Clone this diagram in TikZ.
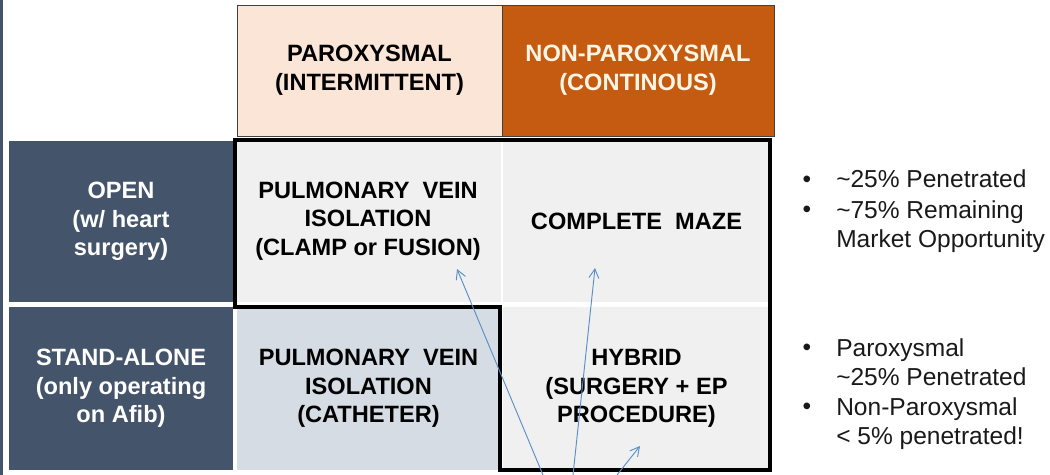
\documentclass[tikz,border=0pt]{standalone}
\usepackage{fontspec}
\setmainfont{Liberation Sans}
\usepackage{xcolor}
\usetikzlibrary{positioning,arrows.meta}

\definecolor{slate}{HTML}{44546A}
\definecolor{peach}{HTML}{FBE5D6}
\definecolor{rust}{HTML}{C55A11}
\definecolor{cream}{HTML}{FFF6E6}
\definecolor{cellgray}{HTML}{F0F0F0}
\definecolor{cellblue}{HTML}{D6DCE4}
\definecolor{arrowblue}{HTML}{5A8EC6}

\tikzset{
  box/.style 2 args={inner sep=0pt, minimum width=#1*0.75pt, minimum height=#2*0.75pt,
    align=center, font=\bfseries\fontsize{17.7}{21.5}\selectfont},
  hdr/.style={draw=black!75, line width=0.6pt},
  rowlab/.style={fill=slate, text=white},
  bul/.style={inner sep=0pt, align=left, text=black!90, font=\fontsize{18.4}{22.2}\selectfont},
  frame/.style={line width=3.1pt, line join=miter},
  arr/.style={draw=arrowblue, line width=0.7pt, -{Straight Barb[length=2.4mm, width=2.6mm]}}
}

\begin{document}
\begin{tikzpicture}[x=0.75pt, y=-0.75pt]
  \useasboundingbox (0,0) rectangle (1050,475);
  % slide edge
  \draw[slate, line width=1.6pt] (1.5,0) -- (1.5,475);

  % column headers
  \node[box={265}{131}, hdr, fill=peach] (parox) at (369.5,70.5) {PAROXYSMAL\\(INTERMITTENT)};
  \node[box={272}{131}, hdr, fill=rust, text=cream] (nonparox) at (638,70.5) {NON-PAROXYSMAL\\(CONTINOUS)};

  % row labels
  \node[box={224}{161}, rowlab] (open) at (121,221.5) {OPEN\\(w/ heart\\surgery)};
  \node[box={224}{163}, rowlab] (standalone) at (121,388.5) {STAND-ALONE\\(only operating\\on Afib)};

  % cells
  \node[box={265}{162}, fill=cellgray] (pviclamp) at (368,221) {PULMONARY\ \ VEIN\\ISOLATION\\(CLAMP or FUSION)};
  \node[box={267}{162}, fill=cellgray] (maze) at (636.5,221) {COMPLETE\ \ MAZE};
  \node[box={263}{163}, fill=cellblue] (pvicath) at (368.5,388.5) {PULMONARY\ \ VEIN\\ISOLATION\\(CATHETER)};
  \node[box={267}{163}, fill=cellgray] (hybrid) at (636.5,388.5) {HYBRID\\(SURGERY + EP\\PROCEDURE)};

  % thick outline round the surgical cells
  \draw[frame] (pviclamp.north west) -- (maze.north east) -- (hybrid.south east)
    -- (pvicath.south east) -- (pvicath.north east) -- (pviclamp.west |- pvicath.north) -- cycle;

  % bullets
  \node[bul, anchor=base] (b1) at (807,187) {\textbullet};
  \node[bul, anchor=base west] (pen1) at (836,187) {\textasciitilde 25\% Penetrated};
  \node[bul, anchor=base] (b2) at (807,217) {\textbullet};
  \node[bul, anchor=north west] (remain) at (836,200) {\textasciitilde 75\% Remaining\\Market Opportunity};
  \node[bul, anchor=base] (b3) at (807,355) {\textbullet};
  \node[bul, anchor=north west] (pen2) at (836,338) {Paroxysmal\\\textasciitilde 25\% Penetrated};
  \node[bul, anchor=base] (b4) at (807,414) {\textbullet};
  \node[bul, anchor=north west] (pen3) at (836,397) {Non-Paroxysmal\\< 5\% penetrated!};

  % arrows from below
  \coordinate (s1) at (543,475);
  \coordinate (s2) at (573,475);
  \coordinate (s3) at (617,475);
  \coordinate (t1) at (457,269);
  \coordinate (t2) at (595,268);
  \coordinate (t3) at (640,446);
  \draw[arr] (s1) -- (t1);
  \draw[arr] (s2) -- (t2);
  \draw[arr] (s3) -- (t3);
\end{tikzpicture}
\end{document}
